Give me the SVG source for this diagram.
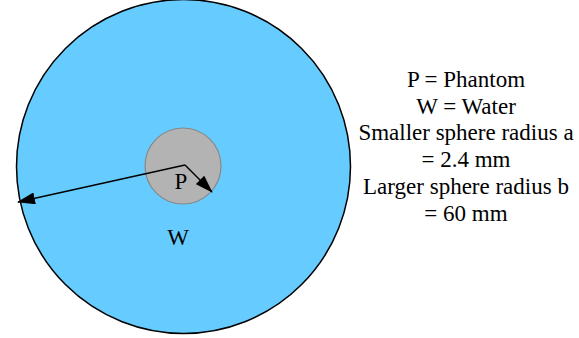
<svg xmlns="http://www.w3.org/2000/svg" width="579" height="338" viewBox="0 0 579 338">
<style>
.t{font-family:'Liberation Serif','Times New Roman',serif;font-size:23px;fill:#000;text-anchor:middle}
.c{stroke:#000;stroke-width:1.5;fill:none}
</style>
<defs>
<marker id="ahL" markerWidth="18" markerHeight="12" refX="17" refY="6" orient="auto" markerUnits="userSpaceOnUse" viewBox="0 0 18 12">
<path d="M0,0 L18,6 L0,12 Z" fill="#000"/>
</marker>
</defs>
<g id="water"><circle cx="183.5" cy="166.5" r="167" fill="#66ccff" stroke="#000" stroke-width="1.5"/>
<text class="t" x="178" y="245">W</text></g>
<g id="phantom"><circle cx="183" cy="166" r="38" fill="#b3b3b3" stroke="#888" stroke-width="1.2"/>
<text class="t" x="181" y="189">P</text></g>
<g id="connectors">
<line class="c" x1="185" y1="165" x2="18" y2="202" marker-end="url(#ahL)"/>
<line class="c" x1="185" y1="165" x2="212" y2="192" marker-end="url(#ahL)"/>
</g>
<g id="legend">
<text class="t" x="466" y="87">P = Phantom</text>
<text class="t" x="466" y="114">W = Water</text>
<text class="t" x="466" y="140">Smaller sphere radius a</text>
<text class="t" x="466" y="167">= 2.4 mm</text>
<text class="t" x="466" y="194">Larger sphere radius b</text>
<text class="t" x="466" y="221">= 60 mm</text>
</g>
</svg>
